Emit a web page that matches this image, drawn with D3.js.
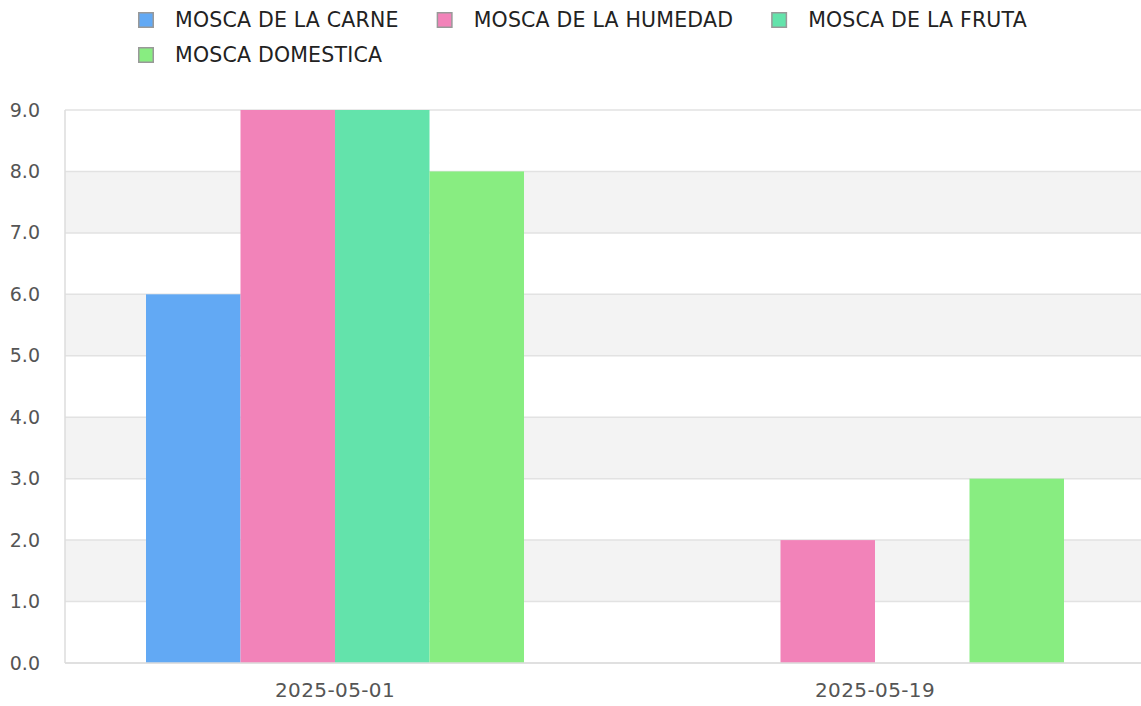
<!DOCTYPE html>
<html>
<head>
<meta charset="utf-8">
<script src="https://cdn.jsdelivr.net/npm/d3@7"></script>
<style>
  html, body { margin: 0; padding: 0; background: #fff; overflow: hidden; }
  svg { display: block; font-family: "DejaVu Sans", sans-serif; }
</style>
</head>
<body>
<svg id="chart" width="1141" height="706"></svg>
<script>
// data
var fechas = ["2025-05-01", "2025-05-19"];
var series = ["MOSCA DE LA CARNE", "MOSCA DE LA HUMEDAD", "MOSCA DE LA FRUTA", "MOSCA DOMESTICA"];
var moscaCarne = [6, 0];
var moscaHumedad = [9, 2];
var moscaFruta = [9, 0];
var moscaDomestica = [8, 3];
var yTicks = [0, 1, 2, 3, 4, 5, 6, 7, 8, 9];

var valores = [moscaCarne, moscaHumedad, moscaFruta, moscaDomestica];
var colores = ["#62a9f4", "#f283b9", "#63e3ab", "#88ed81"];

var margin = {top: 110, right: -4, bottom: 43, left: 65};
var svg = d3.select("#chart");
var width = +svg.attr("width") - margin.left - margin.right;
var height = +svg.attr("height") - margin.top - margin.bottom;

var g = svg.append("g").attr("transform", `translate(${margin.left},${margin.top})`);

var y = d3.scaleLinear().domain([0, 9]).range([height, 0]);
var x0 = d3.scaleBand().domain(fechas).range([0, width]).paddingInner(0.3).paddingOuter(0.15);
var x1 = d3.scaleBand().domain(series).range([0, x0.bandwidth()]);
var color = d3.scaleOrdinal().domain(series).range(colores);

// alternating bands
g.append("g").selectAll("rect")
    .data(yTicks.slice(0, -1).filter(d => d % 2 === 1))
    .enter().append("rect")
    .attr("x", 0)
    .attr("width", width)
    .attr("y", d => y(d + 1))
    .attr("height", d => y(d) - y(d + 1))
    .attr("fill", "#f3f3f3");

// grid lines
g.append("g").selectAll("line")
    .data(yTicks)
    .enter().append("line")
    .attr("x1", 0).attr("x2", width)
    .attr("y1", d => y(d)).attr("y2", d => y(d))
    .attr("stroke", "#e2e2e2")
    .attr("stroke-width", 1.5);

// bars
var filas = fechas.map((f, i) => ({fecha: f, items: series.map((s, j) => ({serie: s, valor: valores[j][i]}))}));
g.append("g").selectAll("g")
    .data(filas)
    .enter().append("g")
    .attr("transform", d => `translate(${x0(d.fecha)},0)`)
    .selectAll("rect")
    .data(d => d.items.filter(v => v.valor > 0))
    .enter().append("rect")
    .attr("x", d => x1(d.serie))
    .attr("width", x1.bandwidth())
    .attr("y", d => y(d.valor))
    .attr("height", d => height - y(d.valor))
    .attr("fill", d => color(d.serie));

// axes lines
g.append("line").attr("x1", 0).attr("x2", 0).attr("y1", 0).attr("y2", height)
    .attr("stroke", "#dddddd").attr("stroke-width", 1.5);
g.append("line").attr("x1", 0).attr("x2", width).attr("y1", height).attr("y2", height)
    .attr("stroke", "#dddddd").attr("stroke-width", 1.5);

// y axis labels
var yAxis = g.append("g")
    .call(d3.axisLeft(y).tickValues(yTicks).tickFormat(d3.format(".1f")).tickSize(0).tickPadding(25));
yAxis.select(".domain").remove();
yAxis.selectAll("text").attr("fill", "#555").style("font-size", "19px").style("font-family", "DejaVu Sans");

// x axis labels
var xAxis = g.append("g")
    .attr("transform", `translate(0,${height})`)
    .call(d3.axisBottom(x0).tickSize(0).tickPadding(20));
xAxis.select(".domain").remove();
xAxis.selectAll("text").attr("fill", "#555").style("font-size", "20px").style("letter-spacing", "0.4px").style("font-family", "DejaVu Sans");

// legend
var legend = svg.append("g");
var lx = 138, ly = 20, maxX = 1141;
series.forEach(function (s) {
    var item = legend.append("g");
    item.append("rect")
        .attr("x", 0.75).attr("y", -7.25)
        .attr("width", 14.5).attr("height", 14.5)
        .attr("fill", color(s))
        .attr("stroke", "#999").attr("stroke-width", 1.5);
    var t = item.append("text")
        .attr("x", 37).attr("y", 0)
        .attr("dy", "0.36em")
        .attr("fill", "#222")
        .style("font-size", "20.5px")
        .style("letter-spacing", "0.2px")
        .text(s);
    var w = 37 + t.node().getComputedTextLength();
    if (lx + w > maxX) { lx = 138; ly += 35; }
    item.attr("transform", `translate(${lx},${ly})`);
    lx += w + 38;
});
</script>
</body>
</html>
